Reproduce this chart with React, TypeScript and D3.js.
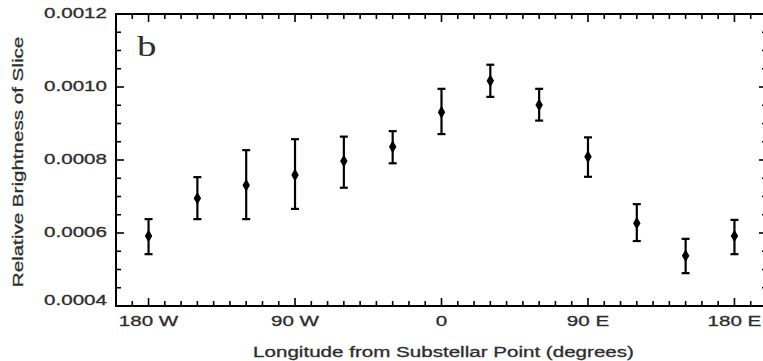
import React from "react";
import * as d3 from "d3";

// longitude of each slice (degrees, W negative)
const longitudes = [-180, -150, -120, -90, -60, -30, 0, 30, 60, 90, 120, 150, 180];
const brightness = [0.000592, 0.000695, 0.000731, 0.000759, 0.000797, 0.000836, 0.000931, 0.001017, 0.000951, 0.000809, 0.000627, 0.000538, 0.000592];
const errLow = [0.000542, 0.000638, 0.000638, 0.000666, 0.000724, 0.000791, 0.000871, 0.000973, 0.000908, 0.000754, 0.000578, 0.00049, 0.000542];
const errHigh = [0.000638, 0.000753, 0.000827, 0.000857, 0.000864, 0.000879, 0.000995, 0.001061, 0.000995, 0.000862, 0.000679, 0.000584, 0.000636];

const xTicks = [-180, -90, 0, 90, 180];
const xTickLabels = ["180 W", "90 W", "0", "90 E", "180 E"];
const yTicks = [0.0004, 0.0006, 0.0008, 0.001, 0.0012];
const yTickLabels = ["0.0004", "0.0006", "0.0008", "0.0010", "0.0012"];

const W = 763, H = 361;
const left = 116, right = 767, top = 14, bottom = 306;
const sx = 1.47; // the text in the picture is stretched sideways

const App = () => {
  const x = d3.scaleLinear().domain([-200, 200]).range([left, right]);
  const y = d3.scaleLinear().domain([0.0004, 0.0012]).range([bottom, top]);

  const xMinor = d3.range(-190, 200, 10).filter(v => v % 90 !== 0);
  const yMinor = d3.range(0, 17).map(i => 0.0004 + i * 0.00005).filter((_, i) => i % 4 !== 0);

  const diamond = d3.symbol().type(d3.symbolDiamond).size(48)();
  const font = "'Liberation Sans', Arial, sans-serif";
  const txt = "#2e2e2e";

  return (
    <svg width={W} height={H} style={{ position: "absolute", left: 0, top: 0, background: "white" }}>
      {/* ticks, all pointing inward */}
      <g stroke="black" strokeWidth={1.6}>
        {xTicks.map(v => (
          <g key={"xt" + v}>
            <line x1={x(v)} x2={x(v)} y1={bottom} y2={bottom - 8} />
            <line x1={x(v)} x2={x(v)} y1={top} y2={top + 8} />
          </g>
        ))}
        {xMinor.map(v => (
          <g key={"xm" + v}>
            <line x1={x(v)} x2={x(v)} y1={bottom} y2={bottom - 5} />
            <line x1={x(v)} x2={x(v)} y1={top} y2={top + 5} />
          </g>
        ))}
        {yTicks.map(v => (
          <g key={"yt" + v}>
            <line x1={left} x2={left + 8} y1={y(v)} y2={y(v)} />
            <line x1={right} x2={right - 8} y1={y(v)} y2={y(v)} />
          </g>
        ))}
        {yMinor.map(v => (
          <g key={"ym" + v}>
            <line x1={left} x2={left + 5} y1={y(v)} y2={y(v)} />
            <line x1={right} x2={right - 5} y1={y(v)} y2={y(v)} />
          </g>
        ))}
      </g>
      <rect x={left} y={top} width={right - left} height={bottom - top} fill="none" stroke="black" strokeWidth={2} />

      {/* tick labels */}
      <g fontFamily={font} fontSize={14} fill={txt} stroke={txt} strokeWidth={0.3}>
        {yTicks.map((v, i) => (
          <text key={"yl" + v} transform={`translate(${left - 9},${y(v) - (i === 0 ? 5 : 0)}) scale(${sx},1)`} textAnchor="end" dy="0.3em">
            {yTickLabels[i]}
          </text>
        ))}
        {xTicks.map((v, i) => (
          <text key={"xl" + v} transform={`translate(${x(v)},${bottom + 20}) scale(${sx},1)`} textAnchor="middle">
            {xTickLabels[i]}
          </text>
        ))}
        <text transform={`translate(${x(0) + 2},${H - 4}) scale(${sx},1)`} textAnchor="middle">
          Longitude from Substellar Point (degrees)
        </text>
        <text transform={`translate(22.5,${(top + bottom) / 2 + 2}) rotate(-90) scale(${sx},1)`} textAnchor="middle">
          Relative Brightness of Slice
        </text>
      </g>

      <text transform={`translate(137,56) scale(1.3,1)`} fontFamily="'Liberation Serif', 'Times New Roman', serif" fontSize={30} fill={txt}>
        b
      </text>

      {/* error bars and points */}
      <g stroke="black" strokeWidth={2.2}>
        {longitudes.map((lon, i) => (
          <g key={"e" + lon}>
            <line x1={x(lon)} x2={x(lon)} y1={y(errLow[i])} y2={y(errHigh[i])} />
            <line x1={x(lon) - 4} x2={x(lon) + 4} y1={y(errLow[i])} y2={y(errLow[i])} />
            <line x1={x(lon) - 4} x2={x(lon) + 4} y1={y(errHigh[i])} y2={y(errHigh[i])} />
          </g>
        ))}
      </g>
      {longitudes.map((lon, i) => (
        <path key={"p" + lon} d={diamond || ""} transform={`translate(${x(lon)},${y(brightness[i])})`} fill="black" />
      ))}
    </svg>
  );
};

export default App;
